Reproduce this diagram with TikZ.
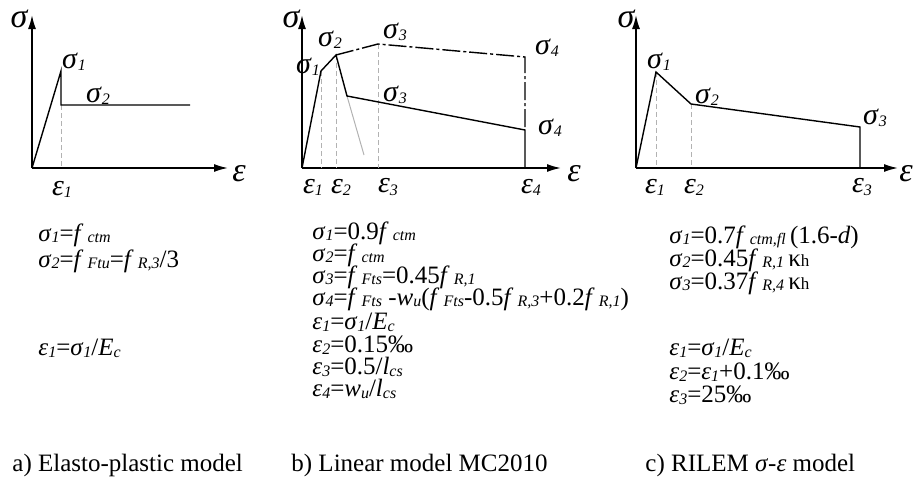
\documentclass[tikz,border=0pt]{standalone}
\usepackage{fontspec}
\setmainfont{Liberation Serif}
\usetikzlibrary{arrows.meta}
\newcommand{\sub}[1]{\raisebox{-0.15ex}{\fontsize{8}{8}\selectfont\itshape #1}}
\newcommand{\sg}[1]{\textit{σ}\sub{#1}}
\newcommand{\ep}[1]{\textit{ε}\sub{#1}}
\newcommand{\ff}[1]{\textit{f}\,\sub{#1}}
\newcommand{\kh}{κ{\fontsize{8.5}{8.5}\selectfont h}}
\begin{document}
\begin{tikzpicture}[x=0.5pt,y=0.5pt,yscale=-1,
  axis/.style={line width=0.8pt,-{Latex[length=7pt,width=4pt]}},
  curve/.style={line width=0.7pt},
  guide/.style={gray!60,line width=0.4pt,dash pattern=on 2.5pt off 1.5pt},
  dashdot/.style={line width=0.7pt,dash pattern={on 9pt off 1.5pt on 1.5pt off 1.5pt}},
  axlbl/.style={inner sep=0pt,font=\fontsize{17}{17}\selectfont\itshape},
  lbl/.style={inner sep=0pt,font=\fontsize{15}{16}\selectfont},
  eq/.style={inner sep=0pt,anchor=west,font=\fontsize{12.5}{13}\selectfont},
  caption/.style={inner sep=0pt,anchor=west,font=\fontsize{12.5}{15}\selectfont},
]
\useasboundingbox (0,0) rectangle (915,482);

% a) elasto-plastic
\coordinate (aO) at (32,168);
\coordinate (aY) at (32,15);
\coordinate (aX) at (228,168);
\coordinate (a1) at (61,71);
\coordinate (a2) at (61,105);
\coordinate (a3) at (190,105);
\coordinate (a2e) at (61,168);
\draw[axis] (aO) -- (aY);
\draw[axis] (aO) -- (aX);
\draw[guide] (a2) -- (a2e);
\draw[curve] (aO) -- (a1) -- (a2) -- (a3);
\node[axlbl] (aSig) at (19,19) {σ};
\node[axlbl] (aEps) at (239,174) {ε};
\node[lbl] (aS1) at (74,62) {\sg{1}};
\node[lbl] (aS2) at (98,96) {\sg{2}};
\node[lbl] (aE1) at (62,189) {\ep{1}};

% b) linear MC2010
\coordinate (bO) at (302,168);
\coordinate (bY) at (302,15);
\coordinate (bX) at (561,168);
\coordinate (b1) at (321,71);
\coordinate (b2) at (336,55);
\coordinate (b3) at (347,96);
\coordinate (b4) at (525,130);
\coordinate (bg) at (364,155);
\coordinate (c3) at (378,44);
\coordinate (c4) at (525,57);
\coordinate (b4e) at (525,168);
\draw[axis] (bO) -- (bY);
\draw[axis] (bO) -- (bX);
\draw[guide] (b1) -- (b1 |- bO);
\draw[guide] (b2) -- (b2 |- bO);
\draw[guide] (c3) -- (c3 |- bO);
\draw[gray!60,line width=0.5pt] (b3) -- (bg);
\draw[dashdot] (b2) -- (c3) -- (c4) -- (b4);
\draw[curve] (bO) -- (b1) -- (b2) -- (b3) -- (b4) -- (b4e);
\node[axlbl] (bSig) at (291,19) {σ};
\node[axlbl] (bEps) at (574,174) {ε};
\node[lbl] (bS1) at (308,67) {\sg{1}};
\node[lbl] (bS2) at (330,40) {\sg{2}};
\node[lbl] (bS3t) at (395,32) {\sg{3}};
\node[lbl] (bS4t) at (547,48) {\sg{4}};
\node[lbl] (bS3) at (395,95) {\sg{3}};
\node[lbl] (bS4) at (550,128) {\sg{4}};
\node[lbl] (bE1) at (313,187) {\ep{1}};
\node[lbl] (bE2) at (341,187) {\ep{2}};
\node[lbl] (bE3) at (388,187) {\ep{3}};
\node[lbl] (bE4) at (531,187) {\ep{4}};

% c) RILEM
\coordinate (cO) at (636,168);
\coordinate (cY) at (636,15);
\coordinate (cX) at (898,168);
\coordinate (r1) at (656,72);
\coordinate (r2) at (691,104);
\coordinate (r3) at (860,127);
\coordinate (r3e) at (860,168);
\draw[axis] (cO) -- (cY);
\draw[axis] (cO) -- (cX);
\draw[guide] (r1) -- (r1 |- cO);
\draw[guide] (r2) -- (r2 |- cO);
\draw[curve] (cO) -- (r1) -- (r2) -- (r3) -- (r3e);
\node[axlbl] (cSig) at (626,19) {σ};
\node[axlbl] (cEps) at (906,174) {ε};
\node[lbl] (cS1) at (659,62) {\sg{1}};
\node[lbl] (cS2) at (707,97) {\sg{2}};
\node[lbl] (cS3) at (875,118) {\sg{3}};
\node[lbl] (cE1) at (655,187) {\ep{1}};
\node[lbl] (cE2) at (694,187) {\ep{2}};
\node[lbl] (cE3) at (862,187) {\ep{3}};

% formulas
\node[eq] (aF1) at (38,235) {\sg{1}=\ff{ctm}};
\node[eq] (aF2) at (38,261) {\sg{2}=\ff{Ftu}=\ff{R,3}/3};
\node[eq] (aF3) at (38,348) {\ep{1}=\sg{1}/\textit{E}\sub{c}};

\node[eq] (bF1) at (312,233) {\sg{1}=0.9\ff{ctm}};
\node[eq] (bF2) at (312,255) {\sg{2}=\ff{ctm}};
\node[eq] (bF3) at (312,277) {\sg{3}=\ff{Fts}=0.45\ff{R,1}};
\node[eq] (bF4) at (312,299) {\sg{4}=\ff{Fts} -\textit{w}\sub{u}(\ff{Fts}-0.5\ff{R,3}+0.2\ff{R,1})};
\node[eq] (bF5) at (312,322) {\ep{1}=\sg{1}/\textit{E}\sub{c}};
\node[eq] (bF6) at (312,345) {\ep{2}=0.15‰};
\node[eq] (bF7) at (312,367) {\ep{3}=0.5/\textit{l}\sub{cs}};
\node[eq] (bF8) at (312,389) {\ep{4}=\textit{w}\sub{u}/\textit{l}\sub{cs}};

\node[eq] (cF1) at (669,237) {\sg{1}=0.7\ff{ctm,fl}\,(1.6-\textit{d})};
\node[eq] (cF2) at (669,260) {\sg{2}=0.45\ff{R,1}\,\kh};
\node[eq] (cF3) at (669,283) {\sg{3}=0.37\ff{R,4}\,\kh};
\node[eq] (cF4) at (669,348) {\ep{1}=\sg{1}/\textit{E}\sub{c}};
\node[eq] (cF5) at (669,372) {\ep{2}=\ep{1}+0.1‰};
\node[eq] (cF6) at (669,395) {\ep{3}=25‰};

% captions
\node[caption] (aCap) at (12,465) {a) Elasto-plastic model};
\node[caption] (bCap) at (291,465) {b) Linear model MC2010};
\node[caption] (cCap) at (645,465) {c) RILEM \textit{σ}-\textit{ε} model};
\end{tikzpicture}
\end{document}
